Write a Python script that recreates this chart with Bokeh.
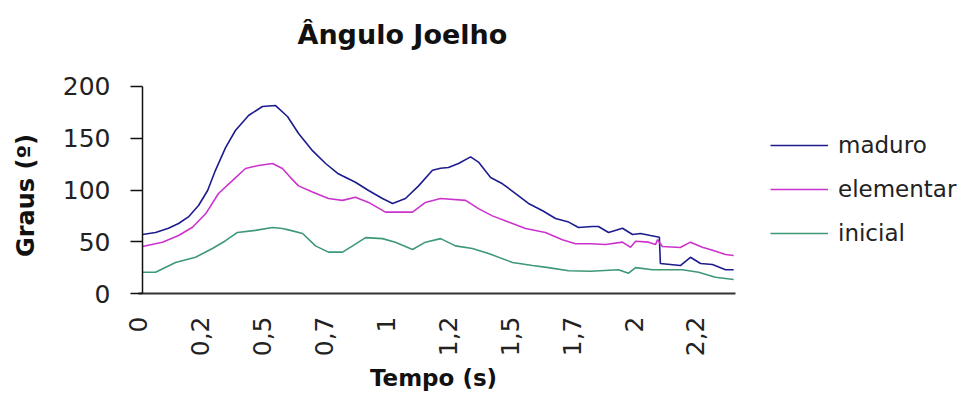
from math import pi
from bokeh.plotting import figure
from bokeh.models import Range1d, FixedTicker, Legend, LegendItem, Label
from bokeh.embed import file_html
from bokeh.resources import INLINE

# ---- data (time in s, angle in degrees) ----
t_maduro = [0.016, 0.068, 0.119, 0.159, 0.198, 0.238, 0.274, 0.305, 0.345, 0.384, 0.436, 0.491,
            0.543, 0.59, 0.634, 0.689, 0.741, 0.789, 0.859, 0.911, 0.966, 1.006, 1.057, 1.109,
            1.164, 1.196, 1.227, 1.267, 1.315, 1.346, 1.394, 1.441, 1.493, 1.544, 1.600, 1.651,
            1.703, 1.742, 1.797, 1.821, 1.861, 1.916, 1.956, 1.987, 2.027, 2.062, 2.066, 2.145,
            2.185, 2.225, 2.272, 2.324, 2.356]
v_maduro = [57, 59, 63, 67.6, 74, 85, 99.5, 119, 141, 157.5, 172, 180.7,
            181.6, 171, 154.6, 138, 125.6, 116, 107.5, 99.5, 91.8, 87, 91.8, 104,
            119, 121, 121.7, 125.6, 132, 127, 112, 106, 96.6, 87, 80, 72.5,
            69, 63.8, 64.7, 64.7, 59, 63, 57, 58, 56, 54.4, 29, 27,
            35, 29, 28, 23, 23]

t_elementar = [0.016, 0.095, 0.159, 0.214, 0.266, 0.317, 0.372, 0.424, 0.475, 0.531, 0.570, 0.602,
               0.634, 0.689, 0.752, 0.808, 0.859, 0.911, 0.978, 1.029, 1.085, 1.136, 1.196, 1.295,
               1.346, 1.401, 1.465, 1.532, 1.611, 1.678, 1.730, 1.789, 1.849, 1.916, 1.948, 1.968,
               2.019, 2.047, 2.055, 2.074, 2.145, 2.185, 2.232, 2.276, 2.324, 2.356]
v_elementar = [45.4, 49.6, 56, 64, 77, 96.6, 109, 120.8, 123.7, 125.6, 120.8, 112,
               104, 98, 91.8, 90, 93, 88, 78.6, 78.6, 78.6, 88, 91.8, 90,
               82, 75, 69, 62.8, 59, 52, 48, 48, 47.3, 49.6, 44.7, 50.5,
               49.6, 47.3, 52, 45.4, 44.4, 49.6, 44.7, 41.5, 37.7, 36.7]

t_inicial = [0.016, 0.068, 0.147, 0.226, 0.293, 0.345, 0.392, 0.463, 0.531, 0.570, 0.602, 0.650,
             0.701, 0.752, 0.808, 0.848, 0.899, 0.966, 1.017, 1.085, 1.136, 1.196, 1.255, 1.322,
             1.386, 1.481, 1.560, 1.623, 1.703, 1.789, 1.900, 1.940, 1.968, 2.035, 2.153, 2.217,
             2.284, 2.356]
v_inicial = [20.6, 20.6, 30, 35, 43.5, 51, 59, 61, 63.8, 62.8, 61, 58,
             46, 40, 40, 46, 54, 53, 49.6, 42.5, 49.6, 53, 46, 43.5,
             38.6, 30, 27, 25, 22, 21.5, 23, 19.6, 25, 23, 23, 20.6,
             15.7, 13.5]

series_names = ["maduro", "elementar", "inicial"]
series_colors = ["#1c1c8f", "#cc33cc", "#3d9975"]

x_tick_values = [0, 0.245, 0.49, 0.735, 0.98, 1.225, 1.47, 1.715, 1.96, 2.205]
x_tick_labels = ["0", "0,2", "0,5", "0,7", "1", "1,2", "1,5", "1,7", "2", "2,2"]
x_axis_extent = (0, 2.3633)
y_axis_at = 0.0162
y_tick_values = [0, 50, 100, 150, 200]
y_axis_extent = (0, 200)

FONT = "DejaVu Sans"
W, H = 965, 405

# The frame covers the whole canvas; the axes are pinned inside it.
p = figure(width=W, height=H, output_backend="svg", toolbar_location=None,
           x_range=Range1d(-0.5458, 3.2737), y_range=Range1d(-108.21, 283.09),
           min_border=0, title=None)
p.background_fill_color = "white"
p.border_fill_color = "white"
p.outline_line_color = None
p.xgrid.visible = False
p.ygrid.visible = False

renderers = []
for t, v, c in zip([t_maduro, t_elementar, t_inicial],
                   [v_maduro, v_elementar, v_inicial], series_colors):
    r = p.line(t, v, line_color=c, line_width=1.6)
    renderers.append(r)

# x axis
xa = p.xaxis[0]
xa.fixed_location = 0
xa.bounds = x_axis_extent
xa.ticker = FixedTicker(ticks=x_tick_values)
xa.major_label_overrides = {k: s for k, s in zip(x_tick_values, x_tick_labels)}
xa.major_label_orientation = pi / 2
xa.major_tick_out = 0
xa.major_tick_in = 0
xa.minor_tick_out = 0
xa.minor_tick_in = 0
xa.axis_line_color = "#333333"
xa.axis_line_width = 2
xa.major_label_text_font = FONT
xa.major_label_text_font_size = "25px"
xa.major_label_text_color = "#222222"
xa.major_label_standoff = 23

# y axis
ya = p.yaxis[0]
ya.fixed_location = y_axis_at
ya.bounds = y_axis_extent
ya.ticker = FixedTicker(ticks=y_tick_values)
ya.major_tick_out = 12
ya.major_tick_in = 0
ya.minor_tick_out = 0
ya.minor_tick_in = 0
ya.axis_line_color = "#111111"
ya.axis_line_width = 1.5
ya.major_tick_line_color = "#111111"
ya.major_tick_line_width = 1.5
ya.major_label_text_font = FONT
ya.major_label_text_font_size = "25px"
ya.major_label_text_color = "#222222"
ya.major_label_standoff = 20

# titles (screen units, measured from the bottom-left of the canvas)
p.add_layout(Label(x=297, y=371, x_units="screen", y_units="screen", text="Ângulo Joelho",
                   text_font=FONT, text_font_style="bold", text_font_size="27px",
                   text_color="#111111", text_align="left", text_baseline="alphabetic"))
p.add_layout(Label(x=433, y=28, x_units="screen", y_units="screen", text="Tempo (s)",
                   text_font=FONT, text_font_style="bold", text_font_size="23px",
                   text_color="#111111", text_align="center", text_baseline="alphabetic"))
p.add_layout(Label(x=25, y=210, x_units="screen", y_units="screen", text="Graus (º)",
                   angle=pi / 2, text_font=FONT, text_font_style="bold",
                   text_font_size="24px", text_color="#111111",
                   text_align="center", text_baseline="middle"))

legend = Legend(items=[LegendItem(label=n, renderers=[r]) for n, r in zip(series_names, renderers)],
                location=(770, 150), orientation="vertical",
                glyph_width=58, glyph_height=44, spacing=0, padding=0, margin=0,
                label_standoff=10, label_text_font=FONT, label_text_font_size="23px",
                label_text_color="#222222", border_line_color=None,
                background_fill_alpha=0)
p.add_layout(legend, "center")

open("out.html", "w").write(file_html(p, INLINE))
